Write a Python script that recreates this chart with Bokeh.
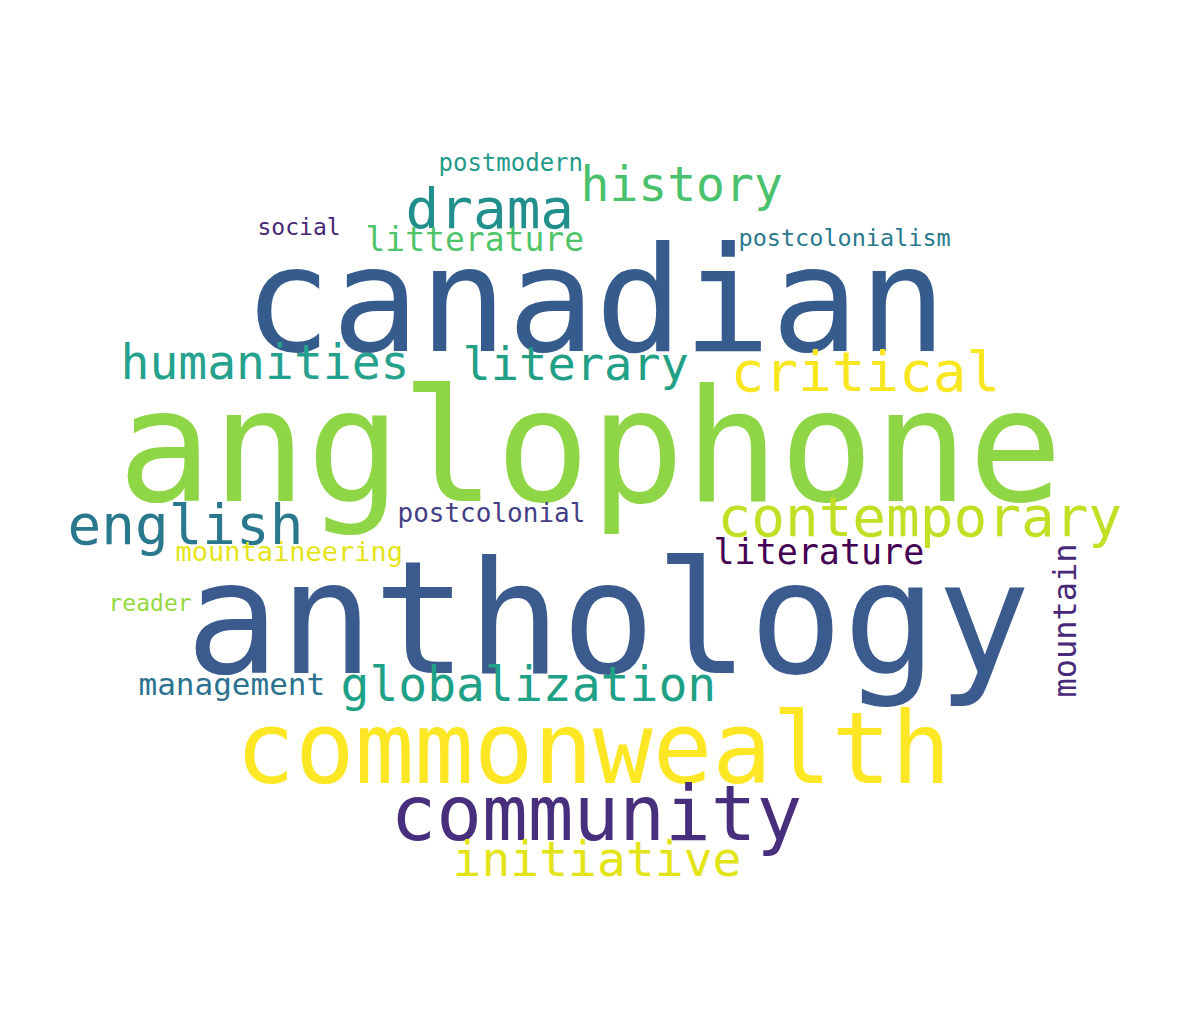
from bokeh.plotting import figure
from bokeh.models import ColumnDataSource, Range1d
from bokeh.core.properties import value
from bokeh.embed import file_html
from bokeh.resources import INLINE
import math

W, H = 1174, 1012

words = ["canadian", "anglophone", "anthology", "commonwealth", "community", "initiative",
         "drama", "history", "postmodern", "social", "litterature", "postcolonialism",
         "humanities", "literary", "critical", "english", "contemporary", "postcolonial",
         "mountaineering", "literature", "reader", "mountain", "management", "globalization"]
sizes = [146, 157, 156, 99, 76, 48,
         56, 48, 24, 23, 33, 23.5,
         48, 47, 56, 56, 56, 26,
         27, 35, 23, 32, 31, 48]
# left/baseline position in page pixels (from the top)
xs = [248, 122, 190, 240, 395, 457,
      410, 585, 443, 262, 370, 743,
      125, 467, 735, 72, 722, 402,
      180, 718, 113, 1063, 143, 345]
ys = [350, 500, 672, 785, 843, 880,
      232, 205, 177, 241, 257, 252,
      383, 385, 395, 548, 540, 528,
      567, 570, 617, 705, 700, 705]
colors = ["#365c8d", "#8ed645", "#3b5b8f", "#fde725", "#472f7d", "#e2e418",
          "#21908d", "#4ac16d", "#1f9a8a", "#482677", "#4fc46a", "#2a788e",
          "#25a18e", "#22a085", "#f8e621", "#2a788e", "#c0df25", "#433e85",
          "#e5e419", "#440154", "#95d840", "#482878", "#2c728e", "#1fa187"]
vertical = ["mountain"]

# the renderer places the alphabetic baseline a bit low; compensate
shift = 0.29
px, py, ang = [], [], []
for w, x, y, s in zip(words, xs, ys, sizes):
    if w in vertical:
        px.append(x - 8 + shift * s)
        py.append(H - (y - 8))
        ang.append(math.pi / 2)
    else:
        px.append(x - 5)
        py.append(H - (y - 8) + shift * s)
        ang.append(0)

src = ColumnDataSource(dict(
    x=px, y=py, text=words,
    size=["%gpx" % s for s in sizes],
    color=colors, angle=ang,
))

p = figure(width=W, height=H, output_backend="svg", toolbar_location=None,
           x_range=Range1d(0, W), y_range=Range1d(0, H), min_border=0)
p.axis.visible = False
p.grid.visible = False
p.outline_line_color = None
p.text(x="x", y="y", text="text", source=src, text_font_size="size",
       text_color="color", angle="angle", text_font=value("DejaVu Sans Mono"),
       text_align="left", text_baseline="alphabetic")

open("out.html", "w").write(file_html(p, INLINE))
